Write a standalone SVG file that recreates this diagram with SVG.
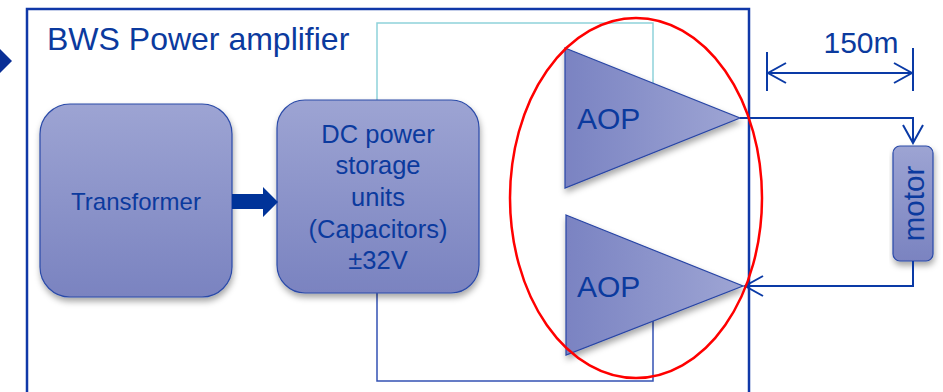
<svg xmlns="http://www.w3.org/2000/svg" width="943" height="392" viewBox="0 0 943 392">
<defs>
<linearGradient id="gv" x1="0" y1="0" x2="0" y2="1">
<stop offset="0" stop-color="#9da4d3"/>
<stop offset="1" stop-color="#7a83c0"/>
</linearGradient>
<linearGradient id="gh" x1="0" y1="0" x2="1" y2="0">
<stop offset="0" stop-color="#7a83c2"/>
<stop offset="1" stop-color="#9ea5d4"/>
</linearGradient>
<filter id="sh" x="-10%" y="-10%" width="130%" height="130%">
<feDropShadow dx="1" dy="4" stdDeviation="3" flood-color="#000" flood-opacity="0.35"/>
</filter>
<marker id="ah" viewBox="0 0 22 22" refX="20" refY="11" markerWidth="22" markerHeight="22" markerUnits="userSpaceOnUse" orient="auto-start-reverse">
<path d="M2,1 L20,11 L2,21" fill="none" stroke="#0a3aa6" stroke-width="2"/>
</marker>
<style>
.box{fill:url(#gv);stroke:#2a4aa8;stroke-width:1.2;filter:url(#sh)}
.tri{fill:url(#gh);stroke:#2845a5;stroke-width:1.2;filter:url(#sh)}
.t{font-family:"Liberation Sans",Arial,sans-serif;fill:#0b3a9e}
.w{fill:none;stroke:#0a3aa6;stroke-width:2}
</style>
</defs>
<polygon points="-3,46 12,61 -3,76" fill="#0a2f96"/>
<g id="frame">
<rect x="27" y="9" width="722" height="420" fill="none" stroke="#1038a8" stroke-width="2.5"/>
<text class="t" x="47" y="50" font-size="32">BWS Power amplifier</text>
</g>
<g id="loop">
<path d="M377,100 V23 H653 V100" fill="none" stroke="#8ed2da" stroke-width="1.5"/>
<path d="M377,293 V381 H653 V300" fill="none" stroke="#3352b4" stroke-width="1.5"/>
</g>
<g id="transformer">
<rect class="box" x="40" y="104" width="192" height="193" rx="30"/>
<text class="t" x="136" y="209.5" font-size="24" text-anchor="middle">Transformer</text>
</g>
<g id="dc">
<rect class="box" x="277" y="100" width="202" height="193" rx="28"/>
<text class="t" font-size="25.5" text-anchor="middle"><tspan x="378" y="143">DC power</tspan><tspan x="378" y="174">storage</tspan><tspan x="378" y="206">units</tspan><tspan x="378" y="238">(Capacitors)</tspan><tspan x="378" y="269">±32V</tspan></text>
</g>
<g id="aop1">
<polygon class="tri" points="565,48 740,118 565,188"/>
<text class="t" x="577" y="129" font-size="30">AOP</text>
</g>
<g id="aop2">
<polygon class="tri" points="566,215 743,286 566,355"/>
<text class="t" x="577" y="297" font-size="30">AOP</text>
</g>
<g id="motor">
<rect class="box" x="893" y="146" width="40" height="115" rx="7"/>
<text class="t" font-size="29.5" text-anchor="middle" transform="translate(924,203.5) rotate(-90)">motor</text>
</g>
<g id="connectors">
<polygon points="232,194 263,194 263,187 278,202 263,217 263,209 232,209" fill="#003399"/>
<path class="w" d="M740,118 H913 V143" marker-end="url(#ah)"/>
<path class="w" d="M913,261 V286 H745" marker-end="url(#ah)"/>
<path class="w" d="M768,73 H912" marker-start="url(#ah)" marker-end="url(#ah)"/>
<path class="w" d="M767,52 V91 M913,48 V91" stroke-width="1.5"/>
</g>
<g id="dimension">
<text class="t" x="861" y="53" font-size="30" text-anchor="middle">150m</text>
</g>
<g id="highlight">
<ellipse cx="636" cy="198" rx="126" ry="180" fill="none" stroke="#ff0000" stroke-width="2.5"/>
</g>
</svg>
